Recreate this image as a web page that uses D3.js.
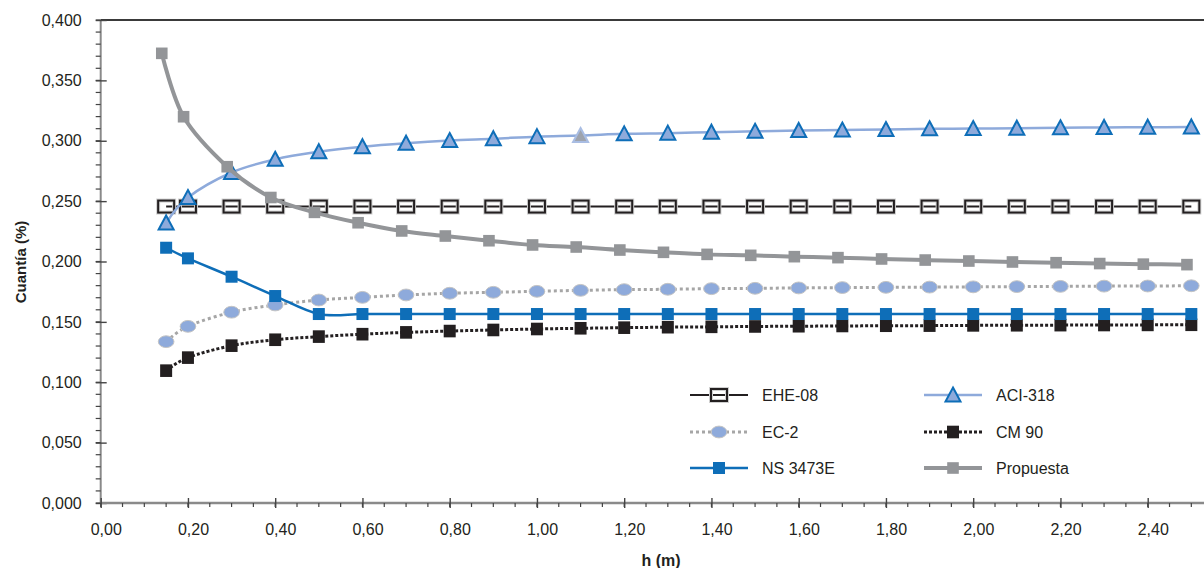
<!DOCTYPE html>
<html>
<head>
<meta charset="utf-8">
<script src="https://cdn.jsdelivr.net/npm/d3@7"></script>
<style>
  html, body { margin: 0; padding: 0; background: #ffffff; }
  svg { display: block; }
  text { font-family: "Liberation Sans", Arial, sans-serif; fill: #231f20; }
</style>
</head>
<body>
<svg id="chart" width="1204" height="568"></svg>
<script>
// ---------- data ----------
const hValues = [0.15, 0.20, 0.30, 0.40, 0.50, 0.60, 0.70, 0.80, 0.90, 1.00, 1.10, 1.20, 1.30,
                 1.40, 1.50, 1.60, 1.70, 1.80, 1.90, 2.00, 2.10, 2.20, 2.30, 2.40, 2.50];
const hPropuesta = [0.14, 0.19, 0.29, 0.39, 0.49, 0.59, 0.69, 0.79, 0.89, 0.99, 1.09, 1.19, 1.29,
                    1.39, 1.49, 1.59, 1.69, 1.79, 1.89, 1.99, 2.09, 2.19, 2.29, 2.39, 2.49];

const ehe08 = [0.2455, 0.2455, 0.2455, 0.2455, 0.2455, 0.2455, 0.2455, 0.2455, 0.2455, 0.2455, 0.2455, 0.2455, 0.2455,
               0.2455, 0.2455, 0.2455, 0.2455, 0.2455, 0.2455, 0.2455, 0.2455, 0.2455, 0.2455, 0.2455, 0.2455];
const aci318 = [0.2319, 0.2530, 0.2737, 0.2846, 0.2909, 0.2951, 0.2980, 0.3002, 0.3017, 0.3034, 0.3043, 0.3057, 0.3063,
                0.3071, 0.3078, 0.3085, 0.3089, 0.3093, 0.3099, 0.3101, 0.3104, 0.3107, 0.3110, 0.3112, 0.3114];
const ec2 = [0.1336, 0.1463, 0.1580, 0.1640, 0.1681, 0.1703, 0.1723, 0.1737, 0.1745, 0.1753, 0.1761, 0.1767, 0.1770,
             0.1775, 0.1778, 0.1781, 0.1784, 0.1786, 0.1788, 0.1790, 0.1792, 0.1794, 0.1796, 0.1797, 0.1799];
const cm90 = [0.1096, 0.1204, 0.1303, 0.1352, 0.1378, 0.1398, 0.1413, 0.1424, 0.1433, 0.1441, 0.1447, 0.1452, 0.1456,
              0.1459, 0.1462, 0.1464, 0.1466, 0.1468, 0.1469, 0.1471, 0.1472, 0.1473, 0.1474, 0.1475, 0.1476];
const ns3473e = [0.2114, 0.2026, 0.1874, 0.1714, 0.1565, 0.1565, 0.1565, 0.1565, 0.1565, 0.1565, 0.1565, 0.1565, 0.1565,
                 0.1565, 0.1565, 0.1565, 0.1565, 0.1565, 0.1565, 0.1565, 0.1565, 0.1565, 0.1565, 0.1565, 0.1565];
const propuesta = [0.3724, 0.3199, 0.2785, 0.2530, 0.2407, 0.2321, 0.2253, 0.2211, 0.2172, 0.2137, 0.2120, 0.2095, 0.2076,
                   0.2059, 0.2051, 0.2040, 0.2032, 0.2021, 0.2012, 0.2004, 0.1996, 0.1990, 0.1983, 0.1978, 0.1974];

const yTickValues = [0, 0.05, 0.10, 0.15, 0.20, 0.25, 0.30, 0.35, 0.40];
const xTickValues = [0, 0.2, 0.4, 0.6, 0.8, 1.0, 1.2, 1.4, 1.6, 1.8, 2.0, 2.2, 2.4];
const seriesNames = ["EHE-08", "ACI-318", "EC-2", "CM 90", "NS 3473E", "Propuesta"];
const xTitle = "h (m)";
const yTitle = "Cuantía (%)";

// ---------- scales ----------
const svg = d3.select("#chart");
const x = d3.scaleLinear().domain([0, 2.53]).range([100.7, 100.7 + 2.53 * 436.25]);
const y = d3.scaleLinear().domain([0, 0.4]).range([503, 20]);

const fmtY = v => d3.format(".3f")(v).replace(".", ",");
const fmtX = v => d3.format(".2f")(v).replace(".", ",");

// ---------- axes ----------
// top border
svg.append("line").attr("x1", x(0)).attr("x2", 1204).attr("y1", y(0.4)).attr("y2", y(0.4))
  .attr("stroke", "#3a3a3a").attr("stroke-width", 2);

// y axis line
svg.append("line").attr("x1", x(0)).attr("x2", x(0)).attr("y1", y(0.4)).attr("y2", y(0))
  .attr("stroke", "#8a8a8a").attr("stroke-width", 2);

// y minor ticks (0.01)
const yMinor = d3.range(0, 41).map(i => i / 100);
svg.append("g").selectAll("line").data(yMinor).join("line")
  .attr("x1", x(0) - 5).attr("x2", x(0))
  .attr("y1", d => y(d)).attr("y2", d => y(d))
  .attr("stroke", "#444").attr("stroke-width", 1.2);
// y major ticks via axis
const yAxis = d3.axisLeft(y).tickValues(yTickValues).tickFormat(fmtY).tickSizeInner(5).tickSizeOuter(0).tickPadding(14);
const gy = svg.append("g").attr("transform", `translate(${x(0)},0)`).call(yAxis);
gy.select(".domain").remove();
gy.selectAll(".tick line").attr("x2", -5).attr("x1", 6).attr("stroke", "#444").attr("stroke-width", 1.4);
gy.selectAll(".tick text").attr("font-size", 16).attr("fill", "#231f20")
  .attr("font-family", "'Liberation Sans', Arial, sans-serif");

// x axis line
svg.append("line").attr("x1", x(0)).attr("x2", 1204).attr("y1", y(0)).attr("y2", y(0))
  .attr("stroke", "#8a8a8a").attr("stroke-width", 2.5);
// x minor ticks (0.05)
const xMinor = d3.range(0, 51).map(i => i * 0.05);
svg.append("g").selectAll("line").data(xMinor).join("line")
  .attr("x1", d => x(d)).attr("x2", d => x(d))
  .attr("y1", y(0)).attr("y2", y(0) + 4)
  .attr("stroke", "#444").attr("stroke-width", 1.2);
const xAxis = d3.axisBottom(x).tickValues(xTickValues).tickFormat(fmtX).tickSizeInner(5).tickSizeOuter(0).tickPadding(16);
const gx = svg.append("g").attr("transform", `translate(0,${y(0)})`).call(xAxis);
gx.select(".domain").remove();
gx.selectAll(".tick line").attr("y1", -5).attr("y2", 5).attr("stroke", "#444").attr("stroke-width", 1.4);
gx.selectAll(".tick text").attr("font-size", 16).attr("fill", "#231f20").attr("dx", 5)
  .attr("font-family", "'Liberation Sans', Arial, sans-serif");

// titles
svg.append("text").attr("x", 661).attr("y", 566).attr("text-anchor", "middle")
  .attr("font-size", 16).attr("font-weight", "bold").text(xTitle);
svg.append("text").attr("transform", "translate(26,262) rotate(-90)").attr("text-anchor", "middle")
  .attr("font-size", 15).attr("font-weight", "bold").text(yTitle);

// ---------- series ----------
const curve = d3.curveCardinal.tension(0);
function pts(xs, ys) { return xs.map((h, i) => [h, ys[i]]); }

const styles = {
  "EHE-08":   { line: "#231f20", width: 2,   dash: null,  marker: "rectOpen" },
  "ACI-318":  { line: "#8eaadb", width: 2.5, dash: null,  marker: "triangle" },
  "EC-2":     { line: "#a6a6a6", width: 3,   dash: "3,3", marker: "ellipse" },
  "CM 90":    { line: "#231f20", width: 3,   dash: "3,2", marker: "squareBlack" },
  "NS 3473E": { line: "#0e6eb8", width: 2.5, dash: null,  marker: "squareBlue" },
  "Propuesta":{ line: "#939598", width: 4,   dash: null,  marker: "squareGray" }
};
const seriesData = {
  "EHE-08": pts(hValues, ehe08),
  "ACI-318": pts(hValues, aci318),
  "EC-2": pts(hValues, ec2),
  "CM 90": pts(hValues, cm90),
  "NS 3473E": pts(hValues, ns3473e),
  "Propuesta": pts(hPropuesta, propuesta)
};

function drawMarker(g, type, cx, cy, special) {
  if (type === "rectOpen") {
    g.append("rect").attr("x", cx - 8).attr("y", cy - 6).attr("width", 16).attr("height", 12)
      .attr("fill", "none").attr("stroke", "#cfcfcf").attr("stroke-width", 4);
    g.append("rect").attr("x", cx - 8).attr("y", cy - 6).attr("width", 16).attr("height", 12)
      .attr("fill", "none").attr("stroke", "#231f20").attr("stroke-width", 2);
  } else if (type === "triangle") {
    const p = [[cx, cy - 7.5], [cx + 7.5, cy + 6.5], [cx - 7.5, cy + 6.5]];
    g.append("path").attr("d", "M" + p.join("L") + "Z")
      .attr("fill", special ? "#9ea3ad" : "#8eaadb")
      .attr("stroke", special ? "#a9bde3" : "#0e6eb8").attr("stroke-width", 2).attr("stroke-linejoin", "miter");
  } else if (type === "ellipse") {
    g.append("ellipse").attr("cx", cx).attr("cy", cy).attr("rx", 7.8).attr("ry", 5.9)
      .attr("fill", "#8eaadb").attr("stroke", "#c4c4c4").attr("stroke-width", 1);
  } else if (type === "squareBlack") {
    g.append("rect").attr("x", cx - 6).attr("y", cy - 6.3).attr("width", 12).attr("height", 12.6).attr("fill", "#231f20");
  } else if (type === "squareBlue") {
    g.append("rect").attr("x", cx - 6).attr("y", cy - 6).attr("width", 12).attr("height", 12).attr("fill", "#0e6eb8");
  } else if (type === "squareGray") {
    g.append("rect").attr("x", cx - 5.8).attr("y", cy - 5.8).attr("width", 11.6).attr("height", 11.6).attr("fill", "#939598");
  }
}

const line = d3.line().x(d => x(d[0])).y(d => y(d[1])).curve(curve);
seriesNames.forEach(name => {
  const st = styles[name];
  const g = svg.append("g");
  g.append("path").datum(seriesData[name]).attr("d", line)
    .attr("fill", "none").attr("stroke", st.line).attr("stroke-width", st.width)
    .attr("stroke-dasharray", st.dash);
  seriesData[name].forEach((d, i) => {
    const special = (name === "ACI-318" && i === 10);
    drawMarker(g, st.marker, x(d[0]), y(d[1]), special);
  });
});

// ---------- legend ----------
const legendCols = [690, 924];
const legendRows = [395, 432, 468];
const legendOrder = ["EHE-08", "ACI-318", "EC-2", "CM 90", "NS 3473E", "Propuesta"];
legendOrder.forEach((name, i) => {
  const st = styles[name];
  const lx = legendCols[i % 2], ly = legendRows[Math.floor(i / 2)];
  const g = svg.append("g");
  g.append("line").attr("x1", lx).attr("x2", lx + 58).attr("y1", ly).attr("y2", ly)
    .attr("stroke", st.line).attr("stroke-width", st.width).attr("stroke-dasharray", st.dash);
  drawMarker(g, st.marker, lx + 29, ly, false);
  g.append("text").attr("x", lx + 72).attr("y", ly + 6).attr("font-size", 16).text(name);
});
</script>
</body>
</html>
